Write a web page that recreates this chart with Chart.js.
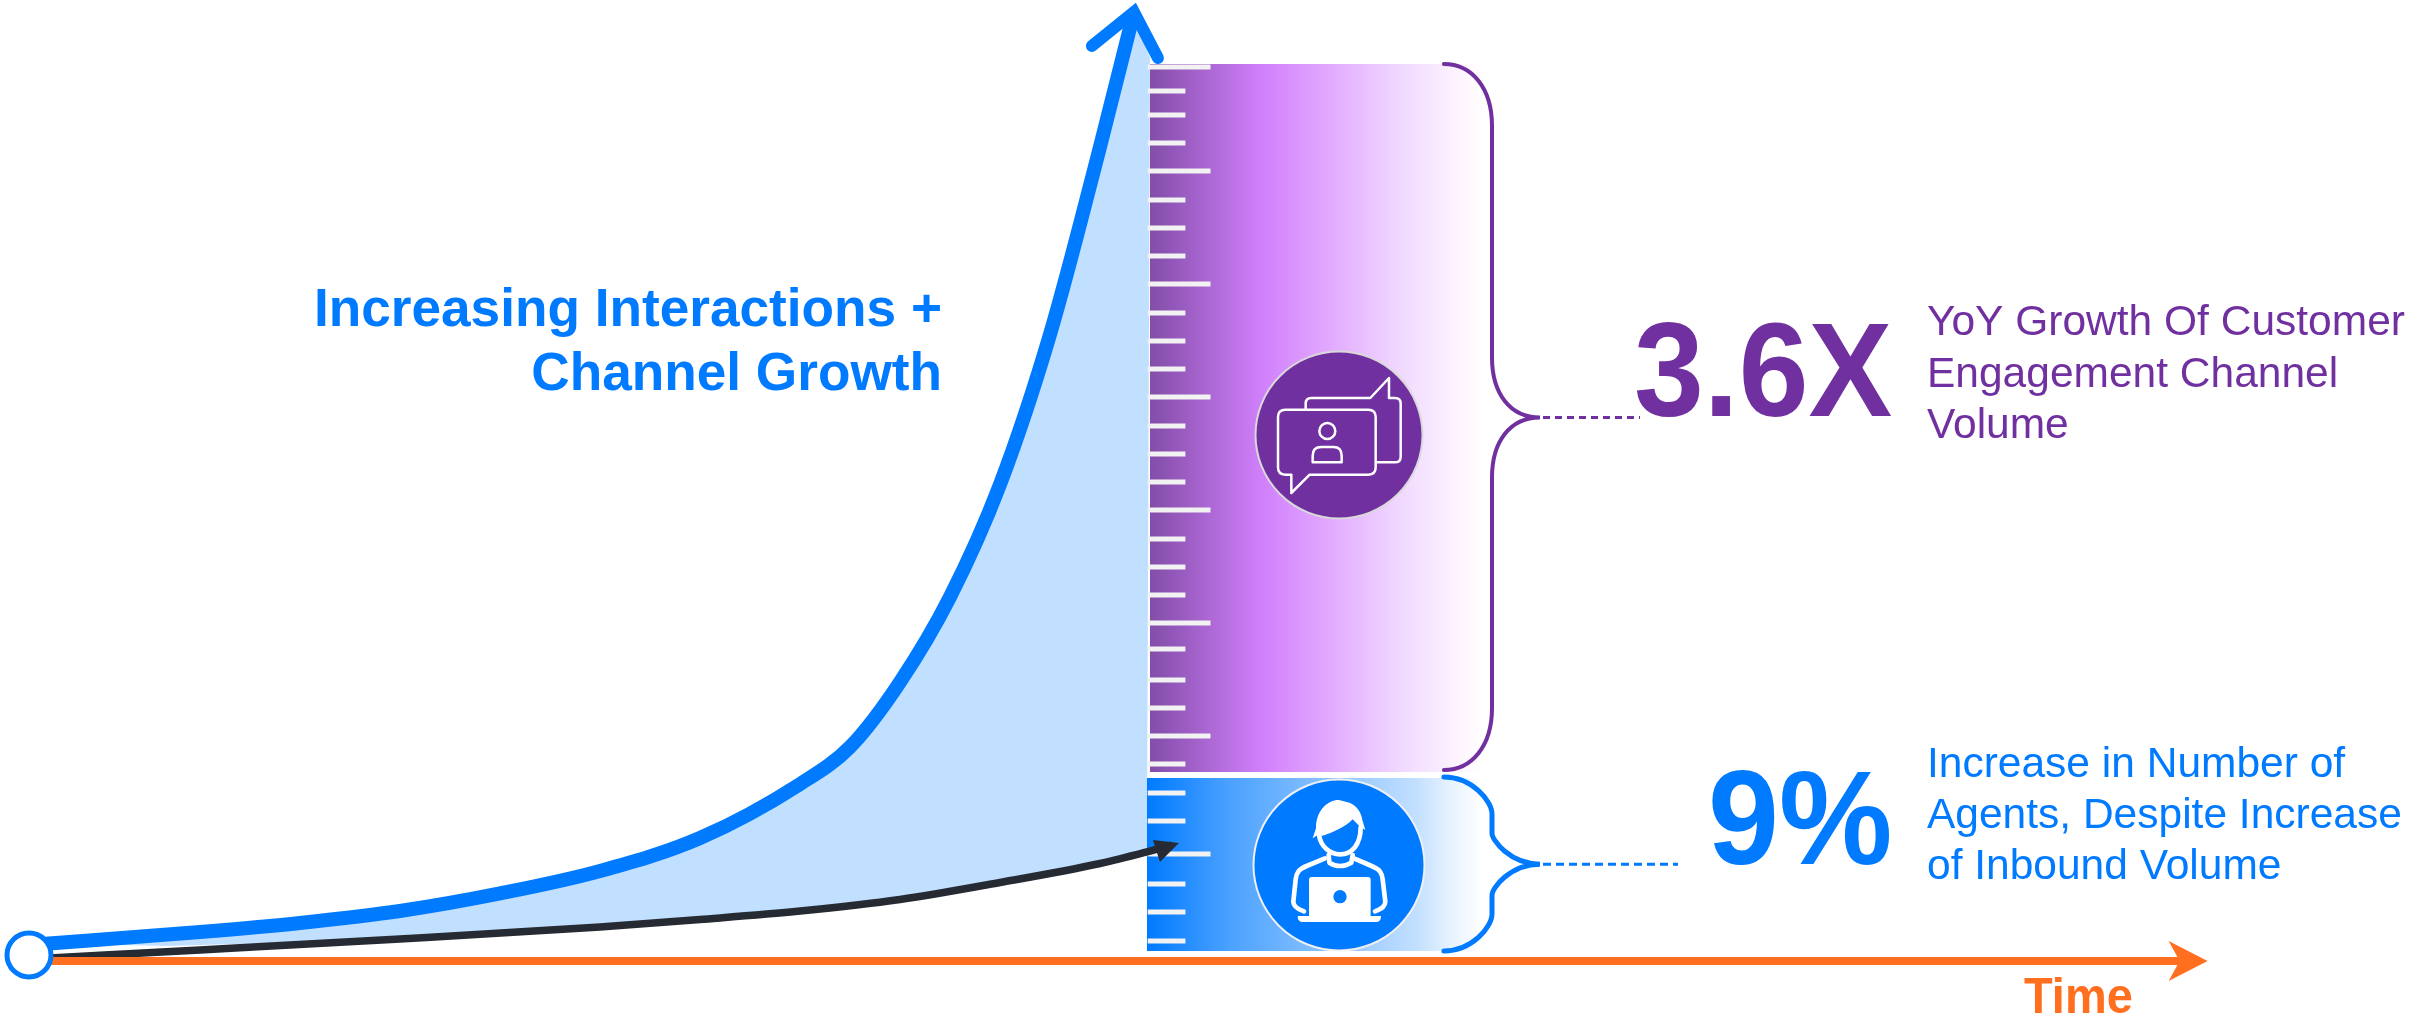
<!DOCTYPE html>
<html>
<head>
<meta charset="utf-8">
<title>Interactions and channel growth</title>
<script src="https://cdn.jsdelivr.net/npm/chart.js@4"></script>
<style>
  html, body { margin: 0; padding: 0; background: #fff; }
  canvas { display: block; }
</style>
</head>
<body>
<canvas id="growth" width="2414" height="1023"></canvas>
<script>
// Time runs 0..100 up to the ruler; volume runs 0..100 up to the ruler's top edge.
const interactionTime   = [0, 15.25, 24.17, 33.09, 42.02, 50.94, 59.86, 68.78, 73.24, 77.7, 82.16, 86.62, 91.08, 95.54, 98.57];
const interactionVolume = [1.78, 3.23, 4.24, 5.57, 7.53, 10.03, 13.71, 19.73, 23.86, 31.1, 40.58, 53.12, 69.84, 90.75, 105.8];
const agentTime   = [1.87, 15.25, 33.09, 50.94, 59.86, 68.78, 77.7, 86.62, 95.54, 100, 101.96];
const agentVolume = [0.33, 1.23, 2.45, 3.79, 4.63, 5.57, 6.86, 8.75, 10.87, 12.26, 12.93];

const channelBand = [21.07, 100];
const agentBand   = [1.11, 20.4];
const channelBandTime = [100, 129.7];
const agentBandTime   = [99.73, 129.7];

const channelTicks = [99.67, 96.99, 94.31, 91.19, 88.07, 84.84, 81.72, 78.6, 75.47, 72.24, 69.12, 66, 62.88, 59.64, 56.52, 53.4, 50.28, 47.05, 43.92, 40.8, 37.68, 34.78, 31.33, 28.21, 25.08, 21.96];
const agentTicks   = [18.73, 15.61, 11.93, 8.58, 5.46, 2.23];
const majorTicks   = [99.67, 88.07, 75.47, 62.88, 50.28, 37.68, 25.08, 11.93];

const timeAxisEnd = 192.3;

const headline    = ['Increasing Interactions +', 'Channel Growth'];
const channelStat = '3.6X';
const channelNote = ['YoY Growth Of Customer', 'Engagement Channel', 'Volume'];
const agentStat   = '9%';
const agentNote   = ['Increase in Number of', 'Agents, Despite Increase', 'of Inbound Volume'];
const timeLabel   = 'Time';

const BLUE = '#007AFF', PURPLE = '#7030A0', ORANGE = '#FF6F1F', INK = '#262B33', TINT = '#C1DFFF';
const FONT = '"Liberation Sans", Arial, sans-serif';

const pairs = (xs, ys) => xs.map((x, i) => ({ x, y: ys[i] }));
const interactions = pairs(interactionTime, interactionVolume);
const agents = pairs(agentTime, agentVolume);

// Tinted wedge between the two curves, closed along the ruler's left edge.
const wedge = [
  ...interactions,
  { x: 100, y: 100.6 },
  { x: 99.73, y: 12.26 },
  ...agents.slice(2, 9).reverse(),
  { x: 12.4, y: 1.67 },
  { x: 1.6, y: 1.95 }
];

function tickSegments(levels) {
  const out = [];
  levels.forEach(v => {
    const len = majorTicks.includes(v) ? 5.6 : 3.36;
    out.push({ x: 99.8, y: v }, { x: 99.8 + len, y: v }, { x: NaN, y: NaN });
  });
  return out;
}

function bandFill(stops, span) {
  return ctx => {
    const { chart } = ctx;
    if (!chart.chartArea) return stops[0][1];
    const x = chart.scales.x;
    const g = chart.ctx.createLinearGradient(x.getPixelForValue(span[0]), 0, x.getPixelForValue(span[1]), 0);
    stops.forEach(([o, c]) => g.addColorStop(o, c));
    return g;
  };
}

const channelStops = [[0, '#834DA8'], [0.34, '#D180FC'], [0.55, '#E3ACFF'], [0.75, '#F0D8FF'], [0.95, '#FFF8FF'], [1, '#FFFFFF']];
const agentStops   = [[0, '#007AFF'], [0.25, '#4CA2FF'], [0.8, '#C2DFFF'], [0.9, '#E6F2FF'], [1, '#FFFFFF']];

function band(range, span, stops, order) {
  return {
    data: [{ x: span[0], y: range[1] }, { x: span[1], y: range[1] }],
    fill: { value: range[0] },
    backgroundColor: bandFill(stops, span),
    borderWidth: 0, pointRadius: 0, showLine: true, order
  };
}

function line(data, color, width, order, extra) {
  return Object.assign({
    data, borderColor: color, borderWidth: width, pointRadius: 0, showLine: true,
    fill: false, order, borderCapStyle: 'butt'
  }, extra || {});
}

function brace(ctx, s) {
  ctx.beginPath();
  ctx.moveTo(s.start, s.top);
  ctx.bezierCurveTo(s.start + 28, s.top, s.mid, s.top + 24, s.mid, s.top + s.shoulder);
  ctx.lineTo(s.mid, s.tip - s.neck);
  ctx.bezierCurveTo(s.mid, s.tip - 24, s.mid + 18, s.tip, s.end, s.tip);
  ctx.bezierCurveTo(s.mid + 18, s.tip, s.mid, s.tip + 24, s.mid, s.tip + s.neck);
  ctx.lineTo(s.mid, s.bottom - s.shoulder);
  ctx.bezierCurveTo(s.mid, s.bottom - 24, s.start + 28, s.bottom, s.start, s.bottom);
  ctx.strokeStyle = s.color;
  ctx.lineWidth = s.width;
  ctx.lineCap = 'round';
  ctx.stroke();
  ctx.beginPath();
  ctx.setLineDash(s.dash);
  ctx.lineCap = 'butt';
  ctx.lineWidth = 3;
  ctx.moveTo(s.end + 3, s.tip);
  ctx.lineTo(s.leader, s.tip);
  ctx.stroke();
  ctx.setLineDash([]);
}

function rr(ctx, x0, y0, x1, y1, r) {
  ctx.roundRect(x0, y0, x1 - x0, y1 - y0, r);
}

function disc(ctx, cx, cy, r, fill, edge) {
  ctx.beginPath();
  ctx.arc(cx, cy, r, 0, Math.PI * 2);
  ctx.fillStyle = fill;
  ctx.fill();
  ctx.lineWidth = 2;
  ctx.strokeStyle = edge;
  ctx.stroke();
}

// Two speech bubbles with a person inside the front one.
function chatIcon(ctx, cx, cy) {
  ctx.save();
  ctx.translate(cx, cy);
  ctx.scale(1 / 3, 1 / 3);
  ctx.translate(-358, -316);
  ctx.strokeStyle = '#fff';
  ctx.lineWidth = 7.5;
  ctx.lineJoin = 'round';
  ctx.beginPath();
  ctx.moveTo(258, 238);
  ctx.lineTo(258, 222);
  ctx.quadraticCurveTo(258, 205, 275, 205);
  ctx.lineTo(452, 205);
  ctx.lineTo(508, 145);
  ctx.lineTo(508, 205);
  ctx.lineTo(526, 205);
  ctx.quadraticCurveTo(543, 205, 543, 222);
  ctx.lineTo(543, 381);
  ctx.quadraticCurveTo(543, 398, 526, 398);
  ctx.lineTo(470, 398);
  ctx.stroke();
  ctx.beginPath();
  ctx.moveTo(197, 240);
  ctx.lineTo(446, 240);
  ctx.quadraticCurveTo(468, 240, 468, 262);
  ctx.lineTo(468, 413);
  ctx.quadraticCurveTo(468, 435, 446, 435);
  ctx.lineTo(270, 435);
  ctx.lineTo(215, 490);
  ctx.lineTo(215, 435);
  ctx.lineTo(197, 435);
  ctx.quadraticCurveTo(175, 435, 175, 413);
  ctx.lineTo(175, 262);
  ctx.quadraticCurveTo(175, 240, 197, 240);
  ctx.closePath();
  ctx.stroke();
  ctx.beginPath();
  ctx.arc(323, 304, 24, 0, Math.PI * 2);
  ctx.stroke();
  ctx.beginPath();
  ctx.moveTo(279, 398);
  ctx.lineTo(279, 378);
  ctx.quadraticCurveTo(279, 352, 305, 352);
  ctx.lineTo(341, 352);
  ctx.quadraticCurveTo(366, 352, 366, 378);
  ctx.lineTo(366, 398);
  ctx.closePath();
  ctx.stroke();
  ctx.restore();
}

// Agent sitting behind a laptop.
function agentIcon(ctx, cx, cy) {
  ctx.save();
  ctx.translate(cx, cy);
  ctx.scale(1 / 3, 1 / 3);
  ctx.translate(-627, -375);
  ctx.strokeStyle = '#fff';
  ctx.fillStyle = '#fff';
  ctx.lineWidth = 14;
  ctx.lineCap = 'round';
  ctx.lineJoin = 'round';
  ctx.beginPath();
  ctx.moveTo(548, 295);
  ctx.lineTo(558, 265);
  ctx.bezierCurveTo(558, 205, 600, 178, 627, 180);
  ctx.lineTo(650, 186);
  ctx.bezierCurveTo(680, 192, 695, 220, 697, 240);
  ctx.lineTo(706, 270);
  ctx.lineTo(688, 258);
  ctx.lineTo(668, 238);
  ctx.bezierCurveTo(650, 258, 610, 278, 578, 287);
  ctx.lineTo(563, 285);
  ctx.closePath();
  ctx.fill();
  ctx.beginPath();
  ctx.moveTo(567, 285);
  ctx.bezierCurveTo(572, 320, 600, 343, 630, 343);
  ctx.bezierCurveTo(665, 343, 692, 315, 692, 262);
  ctx.stroke();
  ctx.beginPath();
  ctx.moveTo(596, 345);
  ctx.lineTo(598, 368);
  ctx.quadraticCurveTo(630, 388, 664, 368);
  ctx.lineTo(668, 345);
  ctx.stroke();
  ctx.beginPath();
  ctx.moveTo(585, 355);
  ctx.lineTo(530, 378);
  ctx.bezierCurveTo(505, 388, 499, 400, 497, 418);
  ctx.lineTo(490, 485);
  ctx.bezierCurveTo(490, 498, 505, 508, 522, 514);
  ctx.stroke();
  ctx.beginPath();
  ctx.moveTo(672, 355);
  ctx.lineTo(725, 378);
  ctx.bezierCurveTo(750, 388, 756, 400, 758, 418);
  ctx.lineTo(766, 485);
  ctx.bezierCurveTo(766, 498, 752, 508, 735, 514);
  ctx.stroke();
  ctx.beginPath();
  rr(ctx, 537, 411, 722, 532, 8);
  ctx.fill();
  ctx.beginPath();
  ctx.moveTo(503, 528);
  ctx.lineTo(753, 528);
  ctx.quadraticCurveTo(753, 546, 738, 546);
  ctx.lineTo(518, 546);
  ctx.quadraticCurveTo(503, 546, 503, 528);
  ctx.fill();
  ctx.beginPath();
  ctx.arc(630, 470, 20, 0, Math.PI * 2);
  ctx.fillStyle = BLUE;
  ctx.fill();
  ctx.restore();
}

function write(ctx, text, x, y, font, color, align, tall) {
  ctx.save();
  ctx.translate(x, y);
  ctx.scale(1, tall || 1);
  ctx.font = font;
  ctx.fillStyle = color;
  ctx.textAlign = align || 'left';
  ctx.textBaseline = 'alphabetic';
  ctx.fillText(text, 0, 0);
  ctx.restore();
}

const annotations = {
  id: 'annotations',
  afterDatasetsDraw(chart) {
    const { ctx, scales: { x, y } } = chart;
    const X = v => x.getPixelForValue(v), Y = v => y.getPixelForValue(v);
    ctx.save();

    // Orange head on the time axis.
    const ax = X(timeAxisEnd), ay = Y(0);
    ctx.beginPath();
    ctx.moveTo(ax + 23, ay);
    ctx.lineTo(ax - 16, ay - 20);
    ctx.lineTo(ax - 5, ay);
    ctx.lineTo(ax - 16, ay + 20);
    ctx.closePath();
    ctx.fillStyle = ORANGE;
    ctx.fill();

    // Dark head on the agent curve.
    const last = agents[agents.length - 1];
    const dx = X(last.x), dy = Y(last.y);
    ctx.beginPath();
    ctx.moveTo(dx + 7, dy - 2);
    ctx.lineTo(dx - 19, dy - 5);
    ctx.lineTo(dx - 12, dy + 17);
    ctx.closePath();
    ctx.fillStyle = INK;
    ctx.fill();

    // Open chevron on the interaction curve.
    const top = interactions[interactions.length - 1];
    const bx = X(top.x), by = Y(top.y);
    ctx.beginPath();
    ctx.moveTo(bx - 42, by + 34);
    ctx.lineTo(bx, by);
    ctx.lineTo(bx + 24, by + 46);
    ctx.strokeStyle = BLUE;
    ctx.lineWidth = 12;
    ctx.lineCap = 'round';
    ctx.lineJoin = 'miter';
    ctx.stroke();

    brace(ctx, {
      start: X(channelBandTime[1]) - 39, mid: 1492, end: 1540, leader: 1640,
      top: Y(channelBand[1]), bottom: Y(channelBand[0]) - 2, tip: Y(60.6),
      shoulder: 62, neck: 60, color: PURPLE, width: 4, dash: [7, 5]
    });
    brace(ctx, {
      start: X(agentBandTime[1]) - 39, mid: 1492, end: 1540, leader: 1678,
      top: Y(agentBand[1]) - 1, bottom: Y(agentBand[0]), tip: Y(10.8),
      shoulder: 37, neck: 31, color: BLUE, width: 5, dash: [8, 5]
    });

    disc(ctx, 1339, 435, 83.5, PURPLE, '#D9D9D9');
    chatIcon(ctx, 1339, 435);
    disc(ctx, 1339, 865, 85.5, BLUE, '#F0F0F0');
    agentIcon(ctx, 1339, 865);

    const bold = s => `bold ${s}px ${FONT}`, plain = s => `${s}px ${FONT}`;
    headline.forEach((t, i) => write(ctx, t, 942, 326 + i * 64, bold(53.2), BLUE, 'right'));
    write(ctx, channelStat, 1634, 416, bold(125.5), PURPLE, 'left', 1.06);
    write(ctx, agentStat, 1708, 864, bold(127.5), BLUE, 'left', 1.05);
    channelNote.forEach((t, i) => write(ctx, t, 1927, 335 + i * 51.5, plain(42.5), PURPLE));
    agentNote.forEach((t, i) => write(ctx, t, 1927, 777 + i * 51, plain(42.5), BLUE));
    write(ctx, timeLabel, 2024, 1013, bold(47), ORANGE, 'left', 1.05);
    ctx.restore();
  }
};

new Chart(document.getElementById('growth'), {
  type: 'scatter',
  data: {
    datasets: [
      { data: wedge, backgroundColor: TINT, borderWidth: 0, pointRadius: 0, showLine: true, fill: 'shape', order: 9 },
      band(channelBand, channelBandTime, channelStops, 8),
      band(agentBand, agentBandTime, agentStops, 7),
      line(tickSegments(channelTicks.concat(agentTicks)), '#F2F2F2', 5, 6, { spanGaps: false }),
      line(interactions, BLUE, 14, 5, { cubicInterpolationMode: 'monotone' }),
      line(agents, INK, 7.5, 4, { cubicInterpolationMode: 'monotone' }),
      line([{ x: 0, y: 0 }, { x: timeAxisEnd, y: 0 }], ORANGE, 8, 3),
      {
        data: [{ x: 0, y: 0.67 }],
        pointRadius: 22, pointBorderWidth: 5, pointBorderColor: BLUE, pointBackgroundColor: '#fff',
        showLine: false, order: 2
      }
    ]
  },
  options: {
    responsive: false,
    animation: false,
    layout: { padding: 0, autoPadding: false },
    plugins: { legend: { display: false }, tooltip: { enabled: false }, title: { display: false } },
    scales: {
      x: { type: 'linear', display: false, min: -2.587, max: 212.76 },
      y: { type: 'linear', display: false, min: -6.91, max: 107.13 }
    }
  },
  plugins: [annotations]
});
</script>
</body>
</html>
